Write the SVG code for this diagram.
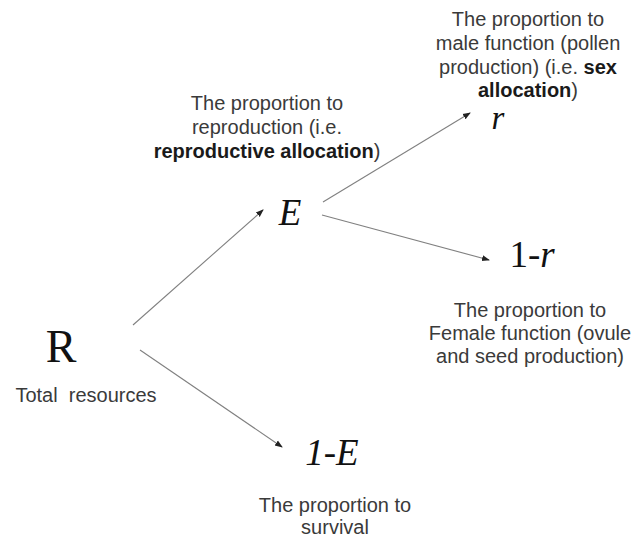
<svg xmlns="http://www.w3.org/2000/svg" width="635" height="538" viewBox="0 0 635 538">
<style>
.lbl{font-family:"Liberation Sans",Arial,sans-serif;font-size:20px;fill:#3a3a3a;text-anchor:middle}
.b{font-weight:bold;fill:#1a1a1a}
.m{font-family:"Liberation Serif","Times New Roman",serif;fill:#111;text-anchor:middle}
.i{font-style:italic}
.c{stroke:#808080;stroke-width:1.1;fill:none;marker-end:url(#ah)}
</style>
<defs>
<marker id="ah" markerUnits="userSpaceOnUse" markerWidth="8" markerHeight="8" viewBox="0 0 8 8" refX="7" refY="4" orient="auto">
<path d="M0,1 L8,4 L0,7 Z" fill="#222"/>
</marker>
</defs>
<rect width="635" height="538" fill="#fff"/>
<g id="connectors">
<line class="c" x1="133" y1="325" x2="263" y2="210"/>
<line class="c" x1="140" y1="350" x2="282" y2="447"/>
<line class="c" x1="323" y1="202" x2="470" y2="113"/>
<line class="c" x1="322" y1="215" x2="489" y2="260"/>
</g>
<g id="node-R">
<text class="m" x="61" y="362" font-size="46">R</text>
<text class="lbl" x="86" y="402" xml:space="preserve">Total  resources</text>
</g>
<g id="node-E">
<text class="m i" x="290" y="225" font-size="37">E</text>
<text class="lbl" x="267" y="110">The proportion to</text>
<text class="lbl" x="267" y="134">reproduction (i.e.</text>
<text class="lbl" x="267" y="158"><tspan class="b">reproductive allocation</tspan>)</text>
</g>
<g id="node-r">
<text class="m i" x="498" y="129" font-size="33">r</text>
<text class="lbl" x="528" y="26">The proportion to</text>
<text class="lbl" x="528" y="50">male function (pollen</text>
<text class="lbl" x="528" y="74">production) (i.e. <tspan class="b">sex</tspan></text>
<text class="lbl" x="528" y="97"><tspan class="b">allocation</tspan>)</text>
</g>
<g id="node-1-r">
<text class="m" x="532" y="267" font-size="37">1-<tspan class="i">r</tspan></text>
<text class="lbl" x="530" y="317">The proportion to</text>
<text class="lbl" x="530" y="340">Female function (ovule</text>
<text class="lbl" x="530" y="363">and seed production)</text>
</g>
<g id="node-1-E">
<text class="m i" x="332" y="465" font-size="37">1-E</text>
<text class="lbl" x="335" y="512">The proportion to</text>
<text class="lbl" x="335" y="534">survival</text>
</g>
</svg>
